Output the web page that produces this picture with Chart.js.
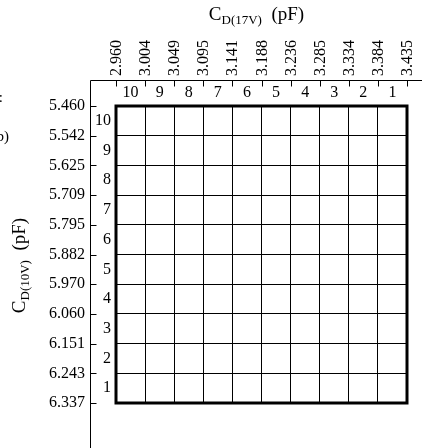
<!DOCTYPE html>
<html>
<head>
<meta charset="utf-8">
<script src="https://cdn.jsdelivr.net/npm/chart.js@4/dist/chart.umd.min.js"></script>
<style>
  html, body { margin: 0; padding: 0; background: #fff; }
  #wrap { width: 422px; height: 448px; position: relative; }
</style>
</head>
<body>
<div id="wrap"><canvas id="c" width="422" height="448"></canvas></div>
<script>
// Top axis: C_D(17V) values (pF), one per grid line, left to right
const topValues = ['2.960','3.004','3.049','3.095','3.141','3.188','3.236','3.285','3.334','3.384','3.435'];
// Left axis: C_D(10V) values (pF), one per grid line, top to bottom
const leftValues = ['5.460','5.542','5.625','5.709','5.795','5.882','5.970','6.060','6.151','6.243','6.337'];
// Column index labels (left to right) and row index labels (top to bottom)
const colIndex = ['10','9','8','7','6','5','4','3','2','1'];
const rowIndex = ['10','9','8','7','6','5','4','3','2','1'];

const SERIF = "'Liberation Serif', 'Times New Roman', serif";
Chart.defaults.color = '#000';
Chart.defaults.font.family = SERIF;

const framePlugin = {
  id: 'frame',
  afterDraw(chart) {
    const ctx = chart.ctx;
    const a = chart.chartArea;
    const xv = chart.scales.x, yv = chart.scales.y;
    const W = chart.width, H = chart.height;
    const ax = Math.round(yv.right) + 0.5, ay = Math.round(xv.bottom) + 0.5;
    ctx.save();
    ctx.strokeStyle = '#000';
    ctx.lineWidth = 1;
    ctx.beginPath();
    // outer axis lines
    ctx.moveTo(ax, ay); ctx.lineTo(W, ay);
    ctx.moveTo(ax, ay); ctx.lineTo(ax, H);
    // inward tick marks at every tick of the value scales
    xv.ticks.forEach(t => {
      const px = Math.round(xv.getPixelForValue(t.value)) + 0.5;
      ctx.moveTo(px, ay); ctx.lineTo(px, ay + 6);
    });
    yv.ticks.forEach(t => {
      const py = Math.round(yv.getPixelForValue(t.value)) + 0.5;
      ctx.moveTo(ax, py); ctx.lineTo(ax + 6, py);
    });
    ctx.stroke();
    // heavy box around the grid
    ctx.lineWidth = 3;
    ctx.strokeRect(a.left, a.top, a.right - a.left, a.bottom - a.top);

    ctx.fillStyle = '#000';
    // top title with subscript
    const big = "19px " + SERIF, small = "13px " + SERIF;
    ctx.textBaseline = 'alphabetic';
    ctx.textAlign = 'left';
    ctx.font = big; const w1 = ctx.measureText('C').width;
    ctx.font = small; const w2 = ctx.measureText('D(17V)').width;
    ctx.font = big; const w3 = ctx.measureText('  (pF)').width;
    const cx = (a.left + a.right) / 2 - 5;
    const x0 = cx - (w1 + w2 + w3) / 2;
    const by = 20;
    ctx.font = big; ctx.fillText('C', x0, by);
    ctx.font = small; ctx.fillText('D(17V)', x0 + w1, by + 4);
    ctx.font = big; ctx.fillText('  (pF)', x0 + w1 + w2, by);

    // left title, rotated
    ctx.save();
    ctx.translate(25, (a.top + a.bottom) / 2 + 11);
    ctx.rotate(-Math.PI / 2);
    ctx.font = big; const v1 = ctx.measureText('C').width;
    ctx.font = small; const v2 = ctx.measureText('D(10V)').width;
    ctx.font = big; const v3 = ctx.measureText('  (pF)').width;
    const s = -(v1 + v2 + v3) / 2;
    ctx.font = big; ctx.fillText('C', s, 0);
    ctx.font = small; ctx.fillText('D(10V)', s + v1, 4);
    ctx.font = big; ctx.fillText('  (pF)', s + v1 + v2, 0);
    ctx.restore();

    // clipped fragments at the left edge
    ctx.font = "15px " + SERIF;
    ctx.textAlign = 'right';
    ctx.fillText(':', 3, 102);
    ctx.fillText('(b)', 9, 141);
    ctx.restore();
  }
};

const tickFont = { family: SERIF, size: 16 };

new Chart(document.getElementById('c'), {
  type: 'scatter',
  data: { datasets: [] },
  options: {
    responsive: false,
    animation: false,
    events: [],
    layout: { padding: { left: 0, right: 15, top: 0, bottom: 45 } },
    plugins: { legend: { display: false }, tooltip: { enabled: false }, title: { display: false } },
    scales: {
      x: {
        type: 'linear', position: 'top', weight: 2, min: 0, max: 10,
        afterFit: s => { s.height = 80; },
        afterBuildTicks: s => { s.ticks = topValues.map((_, i) => ({ value: i })); },
        ticks: { autoSkip: false, minRotation: 90, maxRotation: 90, padding: 4, labelOffset: 20,
                 font: tickFont, callback: (v, i) => topValues[i] },
        grid: { color: '#000', lineWidth: 1, drawTicks: false },
        border: { display: false }
      },
      xi: {
        type: 'linear', axis: 'x', position: 'top', weight: 1, min: 0, max: 10,
        afterFit: s => { s.height = 26; },
        afterBuildTicks: s => { s.ticks = colIndex.map((_, i) => ({ value: i + 0.5 })); },
        ticks: { autoSkip: false, maxRotation: 0, minRotation: 0, padding: 4, font: tickFont,
                 callback: (v, i) => colIndex[i] },
        grid: { display: false, drawTicks: false },
        border: { display: false }
      },
      y: {
        type: 'linear', position: 'left', weight: 2, min: 0, max: 10, reverse: true,
        afterFit: s => { s.width = 90; },
        afterBuildTicks: s => { s.ticks = leftValues.map((_, i) => ({ value: i })); },
        ticks: { autoSkip: false, padding: 5, font: tickFont, callback: (v, i) => leftValues[i] },
        grid: { color: '#000', lineWidth: 1, drawTicks: false },
        border: { display: false }
      },
      yi: {
        type: 'linear', axis: 'y', position: 'left', weight: 1, min: 0, max: 10, reverse: true,
        afterFit: s => { s.width = 26; },
        afterBuildTicks: s => { s.ticks = rowIndex.map((_, i) => ({ value: i + 0.5 })); },
        ticks: { autoSkip: false, padding: 5, font: tickFont, callback: (v, i) => rowIndex[i] },
        grid: { display: false, drawTicks: false },
        border: { display: false }
      }
    }
  },
  plugins: [framePlugin]
});
</script>
</body>
</html>
